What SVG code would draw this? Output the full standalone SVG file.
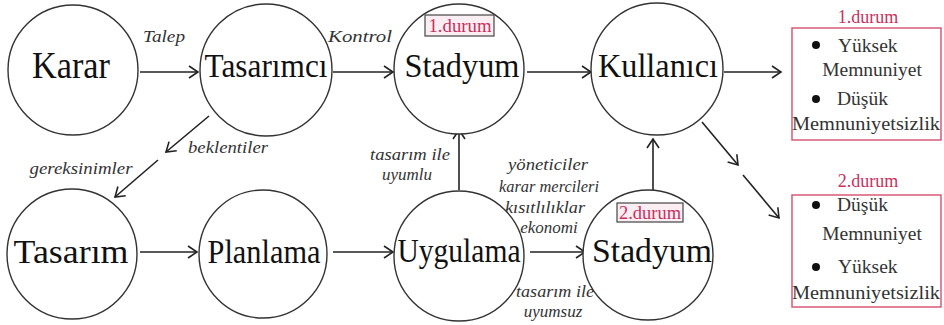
<svg xmlns="http://www.w3.org/2000/svg" width="944" height="325" viewBox="0 0 944 325">
<defs>
<marker id="arr" markerUnits="userSpaceOnUse" markerWidth="14" markerHeight="14" refX="11" refY="7" orient="auto">
<path d="M2,1 L11,7 L2,13" fill="none" stroke="#222" stroke-width="1.6"/>
</marker>
<style>
text{font-family:'Liberation Serif','Times New Roman','DejaVu Serif',serif}
.node{fill:#fff;stroke:#333;stroke-width:1.4}
.lbl{font-size:34px;fill:#111;text-anchor:middle}
.it{font-style:italic;font-size:17px;fill:#333;text-anchor:middle}
.red{font-size:18px;fill:#c8305e;text-anchor:middle}
.bt{font-size:19.5px;fill:#333}
.edge{stroke:#222;stroke-width:1.6;fill:none;marker-end:url(#arr)}
.tag{fill:#fbeef2;stroke:#444;stroke-width:1.2}
.box{fill:#fff;stroke:#d4506e;stroke-width:1.4}
</style>
</defs>
<rect width="944" height="325" fill="#fff"/>
<g id="connectors">
<line class="edge" x1="140" y1="72" x2="198" y2="72"/>
<line class="edge" x1="333" y1="72" x2="393" y2="72"/>
<line class="edge" x1="527" y1="72" x2="591" y2="72"/>
<line class="edge" x1="724" y1="72" x2="781" y2="72"/>
<line class="edge" x1="209" y1="116" x2="166" y2="152"/>
<line class="edge" x1="158" y1="160" x2="115" y2="197"/>
<line class="edge" x1="140" y1="252" x2="197" y2="252"/>
<line class="edge" x1="333" y1="252" x2="393" y2="252"/>
<line class="edge" x1="530" y1="252" x2="585" y2="252"/>
<line class="edge" x1="459" y1="190" x2="459" y2="130"/>
<line class="edge" x1="653" y1="190" x2="653" y2="139"/>
<line class="edge" x1="702" y1="122" x2="738" y2="165"/>
<line class="edge" x1="743" y1="175" x2="779" y2="218"/>
<text class="it" x="164" y="42" textLength="42" lengthAdjust="spacingAndGlyphs">Talep</text>
<text class="it" x="360" y="42" textLength="64" lengthAdjust="spacingAndGlyphs">Kontrol</text>
<text class="it" x="228" y="153" textLength="80" lengthAdjust="spacingAndGlyphs">beklentiler</text>
<text class="it" x="81" y="174" textLength="103" lengthAdjust="spacingAndGlyphs">gereksinimler</text>
<text class="it" x="410" y="160" textLength="80" lengthAdjust="spacingAndGlyphs">tasarım ile</text>
<text class="it" x="407" y="180">uyumlu</text>
<text class="it" x="548" y="170" textLength="80" lengthAdjust="spacingAndGlyphs">yöneticiler</text>
<text class="it" x="549" y="192" textLength="100" lengthAdjust="spacingAndGlyphs">karar mercileri</text>
<text class="it" x="545" y="213" textLength="80" lengthAdjust="spacingAndGlyphs">kısıtlılıklar</text>
<text class="it" x="549" y="233">ekonomi</text>
<text class="it" x="555" y="297" textLength="78" lengthAdjust="spacingAndGlyphs">tasarım ile</text>
<text class="it" x="553" y="317">uyumsuz</text>
</g>
<g id="karar">
<circle class="node" cx="73" cy="70" r="65"/>
<text class="lbl" x="71" y="78" textLength="78" lengthAdjust="spacingAndGlyphs" style="font-size:37px">Karar</text>
</g>
<g id="tasarimci">
<circle class="node" cx="266" cy="70" r="66"/>
<text class="lbl" x="266" y="77" textLength="123" lengthAdjust="spacingAndGlyphs">Tasarımcı</text>
</g>
<g id="stadyum1">
<circle class="node" cx="459" cy="69" r="65"/>
<rect class="tag" x="425" y="15" width="69" height="21"/>
<text class="red" x="460" y="32" textLength="63" lengthAdjust="spacingAndGlyphs" style="font-size:19px">1.durum</text>
<text class="lbl" x="462" y="77" textLength="115" lengthAdjust="spacingAndGlyphs">Stadyum</text>
</g>
<g id="kullanici">
<circle class="node" cx="657" cy="69" r="66"/>
<text class="lbl" x="658" y="77" textLength="120" lengthAdjust="spacingAndGlyphs">Kullanıcı</text>
</g>
<g id="tasarim">
<circle class="node" cx="72" cy="254" r="65"/>
<text class="lbl" x="71" y="263" textLength="115" lengthAdjust="spacingAndGlyphs">Tasarım</text>
</g>
<g id="planlama">
<circle class="node" cx="263" cy="254" r="64"/>
<text class="lbl" x="264" y="263" textLength="113" lengthAdjust="spacingAndGlyphs">Planlama</text>
</g>
<g id="uygulama">
<circle class="node" cx="459" cy="256" r="65"/>
<text class="lbl" x="459" y="262" textLength="123" lengthAdjust="spacingAndGlyphs">Uygulama</text>
</g>
<g id="stadyum2">
<circle class="node" cx="648" cy="255" r="65"/>
<rect class="tag" x="617" y="203" width="66" height="19"/>
<text class="red" x="650" y="219" textLength="62" lengthAdjust="spacingAndGlyphs" style="font-size:18px">2.durum</text>
<text class="lbl" x="652" y="262" textLength="120" lengthAdjust="spacingAndGlyphs">Stadyum</text>
</g>
<g id="durum1">
<text class="red" x="868" y="23">1.durum</text>
<rect class="box" x="792" y="28" width="149" height="112"/>
<circle cx="816" cy="45" r="4" fill="#111"/>
<text class="bt" x="838" y="52">Yüksek</text>
<text class="bt" x="872" y="76" text-anchor="middle">Memnuniyet</text>
<circle cx="816" cy="99" r="4" fill="#111"/>
<text class="bt" x="837" y="105">Düşük</text>
<text class="bt" x="866" y="130" text-anchor="middle" textLength="148" lengthAdjust="spacingAndGlyphs">Memnuniyetsizlik</text>
</g>
<g id="durum2">
<text class="red" x="868" y="187">2.durum</text>
<rect class="box" x="792" y="195" width="149" height="112"/>
<circle cx="816" cy="205" r="4" fill="#111"/>
<text class="bt" x="837" y="211">Düşük</text>
<text class="bt" x="872" y="240" text-anchor="middle">Memnuniyet</text>
<circle cx="816" cy="267" r="4" fill="#111"/>
<text class="bt" x="838" y="273">Yüksek</text>
<text class="bt" x="866" y="299" text-anchor="middle" textLength="148" lengthAdjust="spacingAndGlyphs">Memnuniyetsizlik</text>
</g>
</svg>
